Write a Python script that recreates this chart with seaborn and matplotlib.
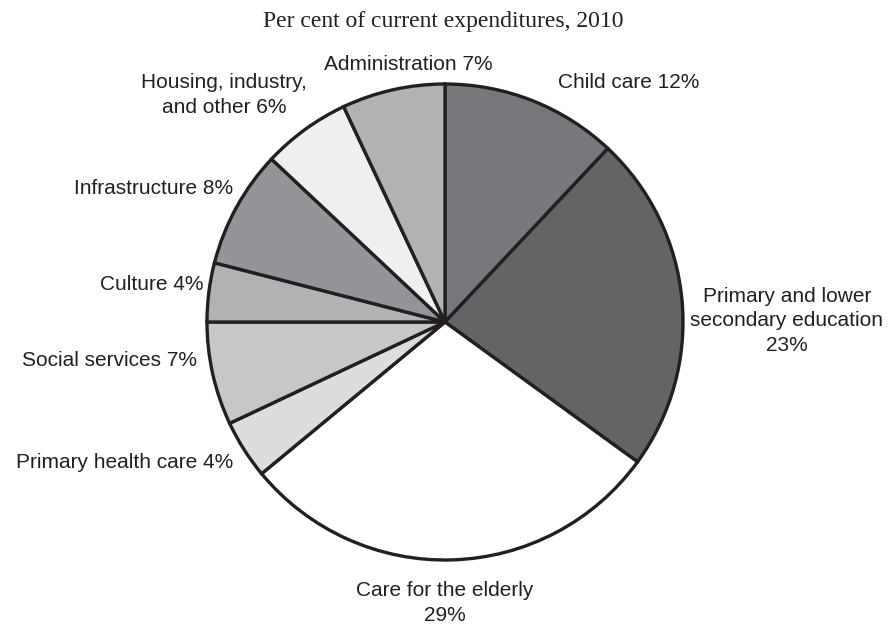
import matplotlib
matplotlib.use("Agg")
import matplotlib.pyplot as plt
import seaborn as sns

# Municipal current expenditures by sector, 2010 (per cent)
categories = [
    "Child care",
    "Primary and lower\nsecondary education",
    "Care for the elderly",
    "Primary health care",
    "Social services",
    "Culture",
    "Infrastructure",
    "Housing, industry,\nand other",
    "Administration",
]
shares = [12, 23, 29, 4, 7, 4, 8, 6, 7]
slice_colors = ["#77787b", "#636466", "#ffffff", "#dcdddf", "#c6c7c9",
                "#b1b2b4", "#939598", "#efeff0", "#b1b2b4"]

sns.set_theme(style="white")
plt.rcParams["font.family"] = ["Liberation Sans", "DejaVu Sans"]

W, H = 892, 626
fig = plt.figure(figsize=(W / 100, H / 100), dpi=100)

cx, cy, r = 445, 322, 238  # pie centre and radius in pixels
ax = fig.add_axes([(cx - r) / W, (H - cy - r) / H, 2 * r / W, 2 * r / H])

ink = "#231f20"
ax.pie(shares, colors=slice_colors, startangle=90, counterclock=False,
       radius=1.0,
       wedgeprops=dict(edgecolor=ink, linewidth=2.4))
ax.set_xlim(-1, 1)
ax.set_ylim(-1, 1)
ax.set_aspect("equal")
ax.axis("off")


def px(x, y):
    return (x - cx) / r, (cy - y) / r


# label anchor positions (pixels) and horizontal alignment
label_pos = [
    (629, 83, "center"),
    (787, 321, "center"),
    (445, 603, "center"),
    (233, 462, "right"),
    (197, 360, "right"),
    (203, 284, "right"),
    (233, 188, "right"),
    (224, 95, "center"),
    (408, 65, "center"),
]

for name, val, (x, y, ha) in zip(categories, shares, label_pos):
    if name.startswith("Primary and") or name == "Care for the elderly":
        text = f"{name}\n{val}%"
    else:
        text = f"{name} {val}%"
    dx, dy = px(x, y)
    ax.text(dx, dy, text, ha=ha, va="center", multialignment="center",
            fontsize=15, color=ink, linespacing=1.38, clip_on=False)

fig.text(443 / W, 1 - 22 / H, "Per cent of current expenditures, 2010",
         ha="center", va="center", fontsize=17, color=ink,
         family=["Liberation Serif", "DejaVu Serif"])

fig.savefig("out.png", dpi=100, facecolor="white")
